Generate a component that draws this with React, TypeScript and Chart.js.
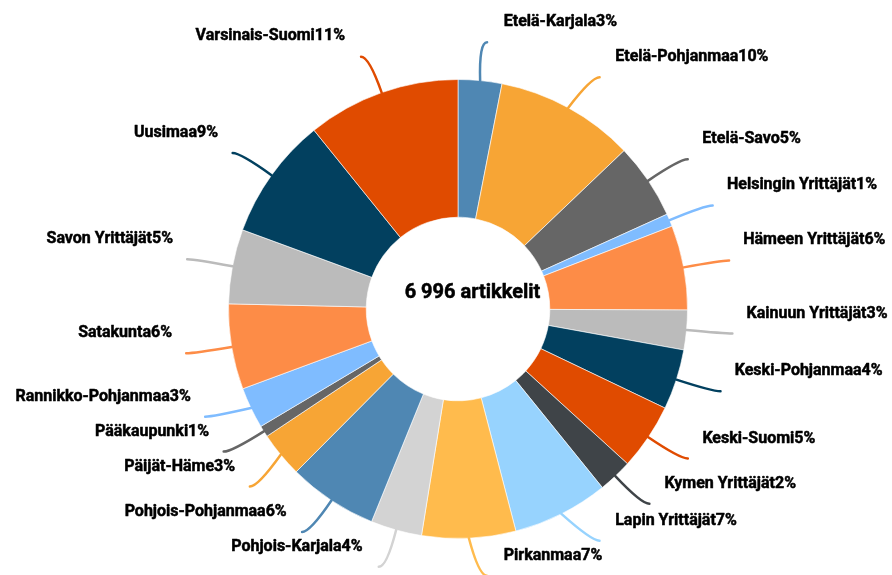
import React, { useEffect, useRef } from "react";
import { Chart, registerables } from "chart.js";

Chart.register(...registerables);

const regions: string[] = [
  "Etelä-Karjala",
  "Etelä-Pohjanmaa",
  "Etelä-Savo",
  "Helsingin Yrittäjät",
  "Hämeen Yrittäjät",
  "Kainuun Yrittäjät",
  "Keski-Pohjanmaa",
  "Keski-Suomi",
  "Kymen Yrittäjät",
  "Lapin Yrittäjät",
  "Pirkanmaa",
  "Pohjois-Karjala",
  "Pohjois-Pohjanmaa",
  "Päijät-Häme",
  "Pääkaupunki",
  "Rannikko-Pohjanmaa",
  "Satakunta",
  "Savon Yrittäjät",
  "Uusimaa",
  "Varsinais-Suomi",
];

const articleCounts: number[] = [
  215, 686, 374, 63, 416, 195, 297, 327, 168, 473, 462, 252, 441, 224, 56, 203, 420, 367, 602, 755,
];

const sliceColors: string[] = [
  "#4f87b3",
  "#f7a535",
  "#666666",
  "#7fbcff",
  "#fd8c47",
  "#bbbbbb",
  "#02405f",
  "#e04b00",
  "#3f4448",
  "#97d3fe",
  "#ffbb4d",
  "#d3d3d3",
  "#4f87b3",
  "#f7a535",
  "#666666",
  "#7fbcff",
  "#fd8c47",
  "#bbbbbb",
  "#02405f",
  "#e04b00",
];

const centerSuffix = "artikkelit";

function formatThousands(n: number): string {
  return String(n).replace(/\B(?=(\d{3})+(?!\d))/g, " ");
}

const outerLabelsPlugin = {
  id: "outerLabels",
  afterDatasetsDraw(chart: any) {
    const meta = chart.getDatasetMeta(0);
    const arcs = meta.data as any[];
    if (!arcs.length) return;
    const ctx = chart.ctx as CanvasRenderingContext2D;
    const values = chart.data.datasets[0].data as number[];
    const colors = chart.data.datasets[0].backgroundColor as string[];
    const names = chart.data.labels as string[];
    const total = values.reduce((a, b) => a + b, 0);

    const cx = arcs[0].x;
    const cy = arcs[0].y;
    const R = arcs[0].outerRadius;
    const rx = R * 1.153;
    const ry = R * 1.167;
    const lcy = cy - 20;
    const gap = 25;
    const tickLen = 38;
    const hook = 8;
    const H = chart.height;

    const items = arcs.map((arc, i) => {
      const mid = (arc.startAngle + arc.endAngle) / 2;
      const side = Math.cos(mid) >= 0 ? 1 : -1;
      const ny = lcy + ry * Math.sin(mid);
      const nx = cx + side * gap + rx * Math.cos(mid);
      return { i, mid, side, ny, nx, y: ny, x: nx };
    });

    for (const side of [1, -1]) {
      const group = items.filter((it) => it.side === side).sort((a, b) => a.ny - b.ny);
      const minGap = 35;
      const top = 22;
      const bottom = H - 19;
      for (let iter = 0; iter < 300; iter++) {
        for (let k = 0; k < group.length - 1; k++) {
          const a = group[k];
          const b = group[k + 1];
          const d = b.y - a.y;
          if (d < minGap) {
            const p = (minGap - d) / 2;
            a.y -= p;
            b.y += p;
          }
        }
        for (const g of group) g.y = Math.min(bottom, Math.max(top, g.y));
      }
      for (const g of group) {
        const t = Math.max(-1, Math.min(1, (g.y - lcy) / ry));
        g.x = cx + side * gap + side * rx * Math.sqrt(1 - t * t);
      }
    }

    ctx.save();
    for (const it of items) {
      const c = Math.cos(it.mid);
      const s = Math.sin(it.mid);
      const dx = it.x - it.nx;
      const dy = it.y - it.ny;
      const p0x = cx + R * c;
      const p0y = cy + R * s;
      const p1x = cx + (R + tickLen) * c + dx;
      const p1y = cy + (R + tickLen) * s + dy;
      const p2x = p1x + it.side * hook;
      const p2y = p1y;
      ctx.beginPath();
      ctx.moveTo(p0x, p0y);
      ctx.quadraticCurveTo(p1x, p1y, p2x, p2y);
      ctx.strokeStyle = colors[it.i];
      ctx.lineWidth = 2.5;
      ctx.lineCap = "round";
      ctx.stroke();
    }
    ctx.font = "bold 16px Roboto, 'Noto Sans', sans-serif";
    ctx.fillStyle = "#000000";
    ctx.strokeStyle = "#000000";
    ctx.lineWidth = 0.5;
    ctx.lineJoin = "round";
    ctx.textBaseline = "middle";
    for (const it of items) {
      const pct = Math.round((values[it.i] / total) * 100);
      const text = `${names[it.i]}${pct}%`;
      ctx.textAlign = it.side > 0 ? "left" : "right";
      ctx.fillText(text, it.x, it.y);
      ctx.strokeText(text, it.x, it.y);
    }
    ctx.font = "bold 20px Roboto, 'Noto Sans', sans-serif";
    ctx.textAlign = "center";
    ctx.textBaseline = "middle";
    const centerText = `${formatThousands(total)} ${centerSuffix}`;
    ctx.fillText(centerText, cx + 14.5, cy - 16);
    ctx.strokeText(centerText, cx + 14.5, cy - 16);
    ctx.restore();
  },
};

export default function App() {
  const canvasRef = useRef<HTMLCanvasElement | null>(null);

  useEffect(() => {
    const canvas = canvasRef.current;
    if (!canvas) return;
    const chart = new Chart(canvas, {
      type: "doughnut",
      data: {
        labels: regions,
        datasets: [
          {
            data: articleCounts,
            backgroundColor: sliceColors,
            borderColor: "rgba(255,255,255,0.6)",
            borderWidth: 1,
          },
        ],
      },
      options: {
        responsive: true,
        maintainAspectRatio: false,
        animation: false,
        cutout: "40%",
        layout: { padding: { top: 79, bottom: 36, left: 200, right: 176 } },
        plugins: {
          legend: { display: false },
          tooltip: { enabled: false },
        },
      },
      plugins: [outerLabelsPlugin],
    });
    return () => chart.destroy();
  }, []);

  return (
    <div style={{ position: "fixed", left: 0, top: 0, width: 892, height: 575, background: "#ffffff" }}>
      <canvas ref={canvasRef} />
    </div>
  );
}
